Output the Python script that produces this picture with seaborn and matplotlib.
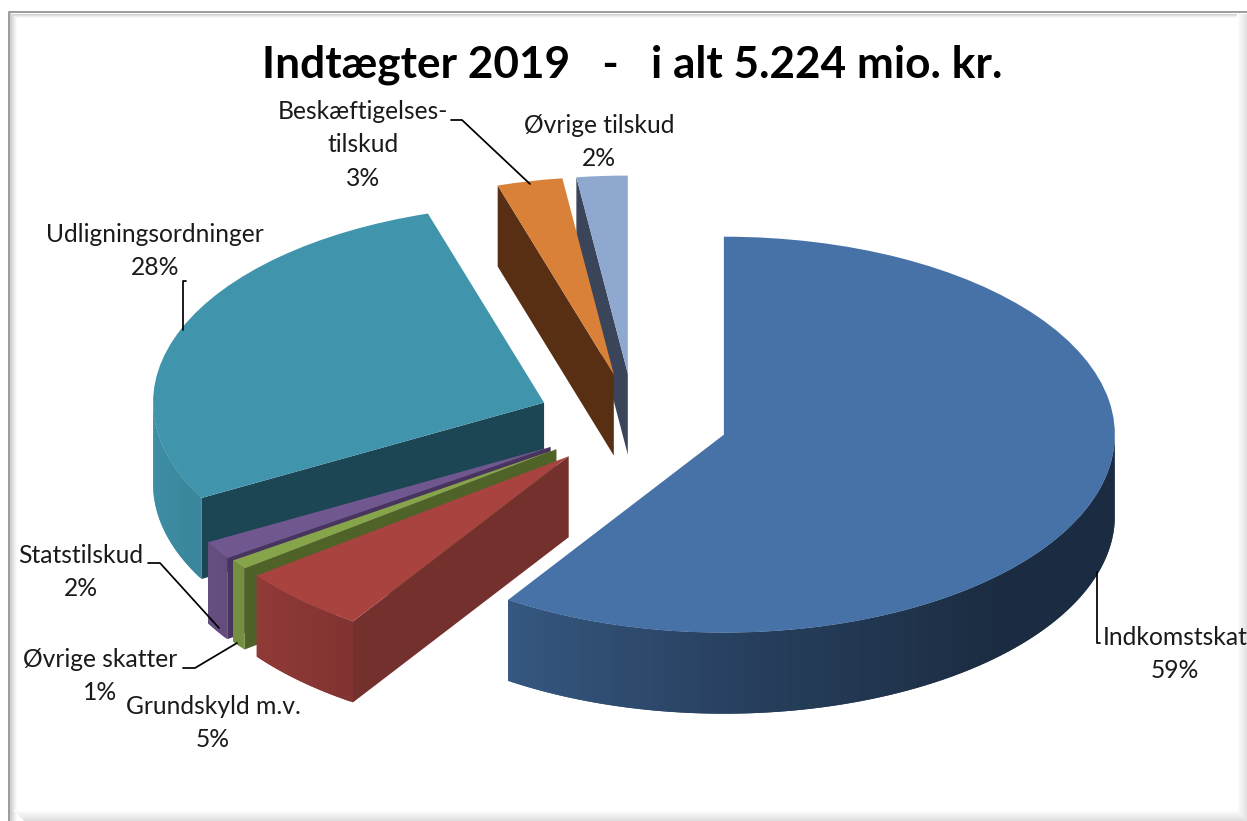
import numpy as np
import matplotlib
matplotlib.use("Agg")
import matplotlib.pyplot as plt
import seaborn as sns

# data, clockwise from twelve o'clock (slice sizes)
names = ["Indkomstskat", "Grundskyld m.v.", "Øvrige skatter", "Statstilskud",
         "Udligningsordninger", "Beskæftigelses-\ntilskud", "Øvrige tilskud"]
values = [59.3, 5.4, 0.8, 1.5, 28.2, 2.7, 2.1]
pct_labels = ["59%", "5%", "1%", "2%", "28%", "3%", "2%"]
explode = [0.24, 0.244, 0.244, 0.25, 0.248, 0.24, 0.24]

top_colors = sns.color_palette(["#4672A8", "#A84340", "#86A44A", "#71578F",
                                "#4095AD", "#D98039", "#8FA8CF"])
face_colors = sns.color_palette(["#1A2D48", "#73302D", "#4F6228", "#49345F",
                                 "#1D4655", "#582F13", "#3B4559"])
# back to front
draw_order = [6, 5, 4, 3, 2, 1, 0]

sns.set_theme(style="white")
plt.rcParams['font.family'] = ['Lato', 'DejaVu Sans']

W, H = 1247, 821
fig = plt.figure(figsize=(W / 100, H / 100), dpi=100, facecolor="white")

# pie axes: ellipse 391 x 198 px around (634, 421)
ax = fig.add_axes([0, 0, 1, 1])
wedges, _ = ax.pie(values, startangle=90, counterclock=False, colors=top_colors,
                   explode=explode, radius=1)
ax.set_aspect("auto")
ax.set_xlim(-634 / 391, (W - 634) / 391)
ax.set_ylim(-(H - 421) / 198, 421 / 198)
ax.axis("off")

depth = 81 / 198


def wall_shade(c):
    # light from the left, dark on the right
    return np.interp(c, [-1, -0.53, 0, 0.7, 1], [0.95, 0.76, 0.58, 0.39, 0.39])


for z, i in enumerate(draw_order):
    w = wedges[i]
    cx, cy = w.center
    base = 10 + z * 3
    w.set_zorder(base + 2)
    w.set_linewidth(0)
    # cut faces, only those turned towards the viewer
    for t, visible in ((w.theta1, np.cos(np.radians(w.theta1)) > 0),
                       (w.theta2, np.cos(np.radians(w.theta2)) < 0)):
        if not visible:
            continue
        ex = cx + np.cos(np.radians(t))
        ey = cy + np.sin(np.radians(t))
        ax.fill([cx, ex, ex, cx], [cy, ey, ey - depth, cy - depth],
                color=face_colors[i], lw=0, zorder=base)
    # outer wall, strips overlap a little so no seams show
    ts = np.append(np.arange(w.theta1, w.theta2, 1.0), w.theta2)
    for a, b in zip(ts[:-1], ts[1:]):
        mid = np.radians((a + b) / 2)
        if np.sin(mid) >= 0:
            continue
        sa = np.linspace(np.radians(max(a - 1.0, w.theta1)), np.radians(b), 4)
        xs = cx + np.cos(sa)
        ys = cy + np.sin(sa)
        shade = np.array(top_colors[i]) * wall_shade(np.cos(mid))
        ax.fill(np.r_[xs, xs[::-1]], np.r_[ys, ys[::-1] - depth],
                color=tuple(shade), lw=0, zorder=base + 1)

# overlay in pixel coordinates for frame, text and leader lines
ov = fig.add_axes([0, 0, 1, 1], facecolor="none")
ov.set_xlim(0, W)
ov.set_ylim(H, 0)
ov.axis("off")

# frame with soft bevel
for k in range(7):
    g = 0.80 + k * 0.03
    ov.plot([10 + k, 10 + k], [13 + k, H], color=(g, g, g), lw=0.9, zorder=1)
    ov.plot([10 + k, W], [14 + k * 0.6, 14 + k * 0.6], color=(g + .02, g + .02, g + .02), lw=0.7, zorder=1)
for k in range(11):
    g = 1 - 0.012 * k
    ov.plot([14 + k, W], [810 + k, 810 + k], color=(g, g, g), lw=1.0, zorder=1)
    ov.plot([1237 + k, 1237 + k], [14, 810 + k], color=(g, g, g), lw=1.0, zorder=1)
ov.plot([8.5, 8.5, W], [H, 12.5, 12.5], color="#9C9C9C", lw=1.4, zorder=2)

ov.text(632, 65, "Indtægter 2019   -   i alt 5.224 mio. kr.", ha="center", va="center",
        fontsize=31.8, fontweight="bold", color="black")

label_x = [1175, 213, 100, 81, 155, 363, 599]
label_y = [654, 723, 676, 572, 251, 145, 142]
for name, pct, x, y in zip(names, pct_labels, label_x, label_y):
    ov.text(x, y, f"{name}\n{pct}", ha="center", va="center", fontsize=17.7,
            color="#1A1A1A", linespacing=1.53, clip_on=False)

leaders = [
    ([1100, 1097, 1097], [643, 643, 572]),
    ([183, 195, 237], [668, 668, 643]),
    ([148, 160, 219], [563, 563, 628]),
    ([186, 183, 183], [281, 281, 330]),
    ([451, 462, 530], [120, 120, 184]),
]
for xs, ys in leaders:
    ov.plot(xs, ys, color="black", lw=1.25, zorder=5)

fig.savefig("out.png", dpi=100)
